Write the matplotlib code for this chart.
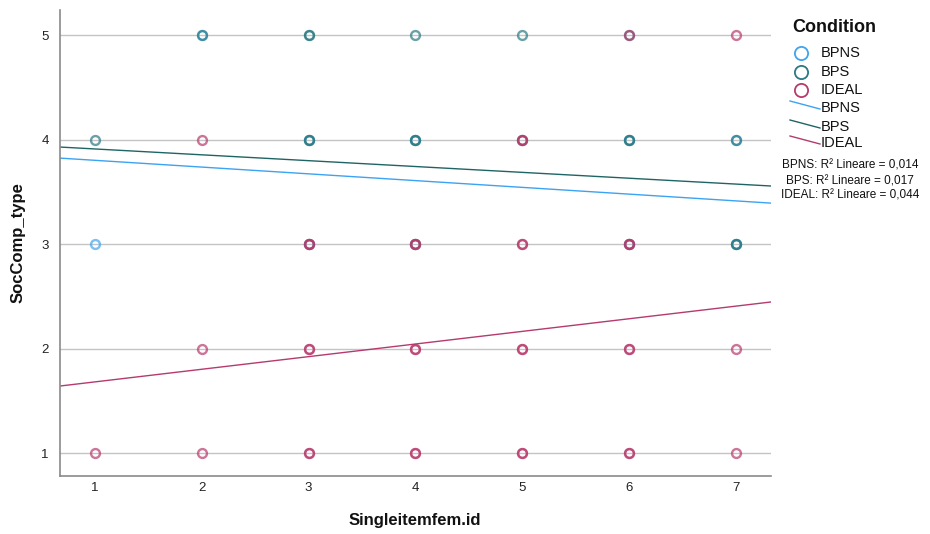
import matplotlib
matplotlib.use("Agg")
import matplotlib.pyplot as plt
from matplotlib.lines import Line2D
import numpy as np

plt.rcParams['font.family'] = ['Liberation Sans', 'DejaVu Sans']

# Observed (Singleitemfem.id, SocComp_type) responses per condition (repeats kept)
bpns_x = [1, 2, 3, 4, 6, 7, 3, 4, 6, 7]
bpns_y = [3, 5, 4, 4, 4, 4, 3, 3, 3, 3]

bps_x = [1, 2, 3, 3, 4, 5, 6, 3, 3, 4, 4, 5, 6, 6, 7, 3, 4, 6, 7, 7]
bps_y = [4, 5, 5, 5, 5, 5, 5, 4, 4, 4, 4, 4, 4, 4, 4, 3, 3, 3, 3, 3]

ideal_x = [6, 7, 2, 5, 5, 3, 3, 4, 4, 5, 5, 6, 6, 2, 3, 3, 4, 4, 5, 5, 6, 6, 7,
           1, 2, 3, 3, 4, 4, 5, 5, 6, 6, 7]
ideal_y = [5, 5, 4, 4, 4, 3, 3, 3, 3, 3, 3, 3, 3, 2, 2, 2, 2, 2, 2, 2, 2, 2, 2,
           1, 1, 1, 1, 1, 1, 1, 1, 1, 1, 1]

conditions = ["BPNS", "BPS", "IDEAL"]
# Linear fit lines: intercept, slope
fit_intercept = [3.866, 3.966, 1.560]
fit_slope = [-0.0647, -0.056, 0.1208]
r2_values = ["0,014", "0,017", "0,044"]

x_ticks = [1, 2, 3, 4, 5, 6, 7]
y_ticks = [1, 2, 3, 4, 5]

point_colors = ["#3fa4ee", "#2a7a82", "#b83a6c"]
line_colors = ["#3ca3f2", "#1f6464", "#b53a6e"]

W, H = 930, 534
fig = plt.figure(figsize=(W / 100, H / 100), dpi=100)
ax = fig.add_axes([60 / W, 1 - 476 / H, (771 - 60) / W, (476 - 10) / H])

xlim = (0.672, 7.33)
ax.set_xlim(*xlim)
ax.set_ylim(0.78, 5.24)

for y in y_ticks:
    ax.axhline(y, color="#c4c4c4", lw=1.0, zorder=0)

series = [(bpns_x, bpns_y), (bps_x, bps_y), (ideal_x, ideal_y)]
for (xs, ys), c in zip(series, point_colors):
    ax.plot(xs, ys, linestyle="none", marker="o", markersize=6.4,
            markerfacecolor="none", markeredgecolor=c, markeredgewidth=1.7,
            alpha=0.7, zorder=3)

xx = np.array(xlim)
for b0, b1, c in zip(fit_intercept, fit_slope, line_colors):
    ax.plot(xx, b0 + b1 * xx, color=c, lw=1.0, zorder=2)

for s in ["top", "right"]:
    ax.spines[s].set_visible(False)
for s in ["left", "bottom"]:
    ax.spines[s].set_color("#8a8a8a")
    ax.spines[s].set_linewidth(1.2)

ax.set_xticks(x_ticks)
ax.set_yticks(y_ticks)
ax.tick_params(axis="x", length=0, labelsize=9.5, colors="#222222", pad=4)
ax.tick_params(axis="y", length=0, labelsize=9.5, colors="#222222", pad=8)
for lab in ax.get_xticklabels() + ax.get_yticklabels():
    lab.set_family(['Liberation Sans Narrow', 'Liberation Sans', 'DejaVu Sans'])


def fx(px):
    return px / W


def fy(py):
    return 1 - py / H


fig.text(fx(415), fy(521), "Singleitemfem.id", fontsize=12, fontweight="bold",
         ha="center", va="center", color="#111111")
fig.text(fx(18), fy(243), "SocComp_type", fontsize=12, fontweight="bold",
         ha="center", va="center", rotation=90, color="#111111")

# Legend drawn in figure pixel space
fig.text(fx(792), fy(28), "Condition", fontsize=13, fontweight="bold",
         va="center", ha="left", color="#111111")
circ_y = [53, 72, 90]
for name, c, py in zip(conditions, point_colors, circ_y):
    fig.add_artist(Line2D([fx(801)], [fy(py)], transform=fig.transFigure,
                          marker="o", markersize=9.5, markerfacecolor="none",
                          markeredgecolor=c, markeredgewidth=1.3, linestyle="none"))
    fig.text(fx(821), fy(py), name, fontsize=10.5, va="center", ha="left", color="#111111")
line_text_y = [108, 127, 143]
for name, c, py in zip(conditions, line_colors, line_text_y):
    fig.add_artist(Line2D([fx(790), fx(820)], [fy(py - 7), fy(py + 1)],
                          transform=fig.transFigure, color=c, lw=1.0))
    fig.text(fx(821), fy(py), name, fontsize=10.5, va="center", ha="left", color="#111111")

r2_y = [165, 181, 195]
for name, r2, py in zip(conditions, r2_values, r2_y):
    fig.text(fx(850), fy(py), f"{name}: R\u00b2 Lineare = {r2}", fontsize=8.5,
             va="center", ha="center", color="#111111")

fig.savefig("out.png", dpi=100)
